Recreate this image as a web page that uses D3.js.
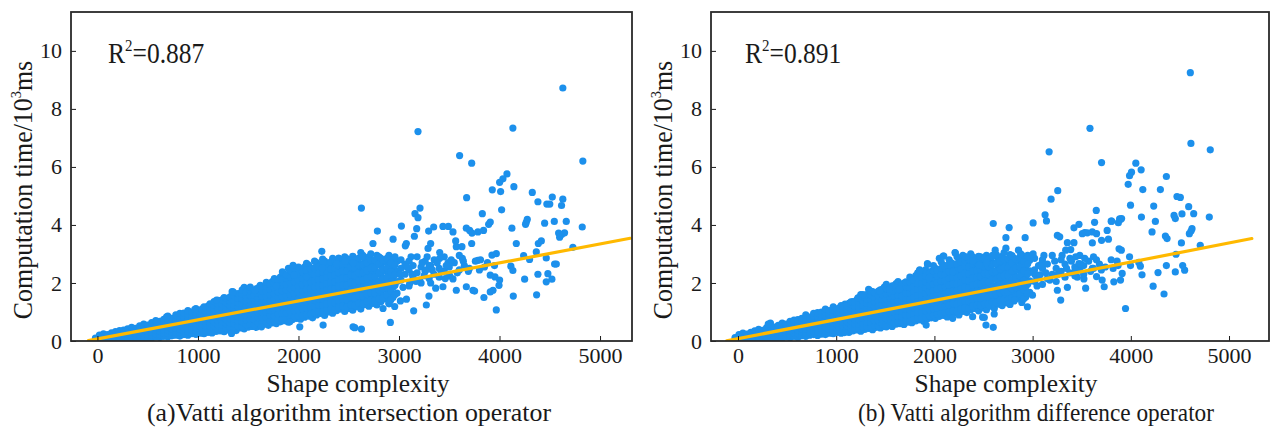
<!DOCTYPE html>
<html><head><meta charset="utf-8">
<script src="https://cdn.jsdelivr.net/npm/d3@7"></script>
<style>
body{margin:0;background:#fff}
svg{display:block}
text{font-family:"Liberation Serif","Times New Roman",serif;fill:#1a1a1a}
</style>
</head><body><svg id="c" width="1271" height="430"></svg>
<script>
// ---------------- DATA ----------------
const xTicks = [0, 1000, 2000, 3000, 4000, 5000];
const yTicks = [0, 2, 4, 6, 8, 10];
const xTitle = "Shape complexity";
const yTitleMain = "Computation time/10";
const yTitleSup = "3";
const yTitleEnd = "ms";
const captions = ["(a)Vatti algorithm intersection operator", "(b) Vatti algorithm difference operator"];
const r2Values = ["0.887", "0.891"];
// regression lines: [intercept, slope] and x extent
const fitA = [0.07, 0.000655];
const fitRangeA = [-90, 5300];
const fitB = [0.08, 0.00066];
const fitRangeB = [-115, 5232];

// Panel (a) dense band: shape complexity columns and the times read in each
const colAX = [-20,20,60,100,140,180,220,260,300,340,380,420,460,500,540,580,620,660,700,740,780,820,860,900,940,980,1020,1060,1100,1140,1180,1220,1260,1300,1340,1380,1420,1460,1500,1540,1580,1620,1660,1700,1740,1780,1820,1860,1900,1940,1980,2020,2060,2100,2140,2180,2220,2260,2300,2340,2380,2420,2460,2500,2540,2580,2620,2660,2700,2740,2780,2820,2860,2900,2940,2980,3020,3060,3100,3140,3180,3220,3260,3300,3350,3400,3450,3500,3550,3600,3650,3700,3760,3850,3950];
const colAY = [
[0.03,0.1],[0.05,0.12,0.2],[0.04,0.1,0.18,0.25],[0.06,0.14,0.22],[0.03,0.1,0.18,0.28],[0.05,0.15,0.24,0.32],
[0.04,0.12,0.2,0.3,0.36],[0.07,0.16,0.26,0.38],[0.05,0.13,0.22,0.32,0.42],[0.08,0.18,0.28,0.36,0.47],[0.06,0.15,0.25,0.34,0.44],
[0.1,0.2,0.3,0.4,0.52],[0.08,0.17,0.27,0.38,0.48,0.58],[0.12,0.22,0.33,0.44,0.55],[0.1,0.2,0.3,0.42,0.52,0.63],
[0.14,0.25,0.36,0.47,0.58,0.7],[0.12,0.22,0.34,0.45,0.56,0.68],[0.16,0.27,0.38,0.5,0.62,0.75],[0.15,0.26,0.37,0.48,0.6,0.72,0.86],
[0.18,0.3,0.42,0.54,0.66,0.78],[0.2,0.31,0.43,0.55,0.68,0.8,0.9],[0.17,0.29,0.41,0.53,0.65,0.77,0.95],[0.22,0.34,0.46,0.58,0.7,0.83,0.96],
[0.2,0.33,0.45,0.57,0.69,0.81,0.93,1.05],[0.25,0.37,0.5,0.62,0.74,0.87,1.0],[0.23,0.35,0.48,0.6,0.72,0.85,0.98,1.12],
[0.27,0.4,0.52,0.65,0.78,0.9,1.03],[0.25,0.38,0.51,0.64,0.77,0.9,1.04,1.18],[0.3,0.43,0.56,0.69,0.82,0.95,1.08,1.2],
[0.28,0.42,0.55,0.68,0.82,0.96,1.1,1.25],[0.33,0.46,0.6,0.74,0.88,1.02,1.16,1.3],[0.35,0.49,0.63,0.77,0.91,1.05,1.2,1.35],
[0.32,0.47,0.62,0.76,0.9,1.05,1.2,1.34,1.5],[0.38,0.52,0.67,0.82,0.96,1.1,1.25,1.4],[0.4,0.55,0.7,0.85,1.0,1.15,1.3,1.45,1.7],
[0.36,0.52,0.68,0.84,1.0,1.16,1.32,1.48,1.62],[0.45,0.6,0.76,0.92,1.08,1.24,1.4,1.55],[0.42,0.58,0.74,0.9,1.06,1.22,1.38,1.54,1.68,1.85],
[0.48,0.64,0.8,0.96,1.12,1.28,1.44,1.6,1.75],[0.5,0.67,0.84,1.0,1.16,1.32,1.48,1.64],[0.47,0.64,0.81,0.98,1.15,1.32,1.5,1.66,1.8],
[0.55,0.72,0.89,1.06,1.23,1.4,1.57,1.74,1.92],[0.58,0.75,0.92,1.1,1.28,1.45,1.62,1.8],[0.54,0.72,0.9,1.08,1.26,1.44,1.62,1.8,1.96],
[0.62,0.8,0.98,1.16,1.34,1.52,1.7,1.88,2.05],[0.6,0.78,0.97,1.16,1.35,1.54,1.72,1.9,2.1],[0.66,0.85,1.04,1.23,1.42,1.6,1.8,1.98,2.2],
[0.7,0.88,1.07,1.26,1.45,1.64,1.84,2.04,2.3],[0.65,0.85,1.05,1.25,1.45,1.65,1.85,2.05,2.2,2.5],[0.74,0.94,1.14,1.34,1.54,1.74,1.94,2.14,2.35],
[0.78,0.98,1.18,1.38,1.58,1.78,1.98,2.18,2.4],[0.75,0.96,1.17,1.38,1.59,1.8,2.0,2.2,2.45],[0.82,1.03,1.24,1.45,1.66,1.87,2.08,2.3,2.55],
[0.86,1.08,1.3,1.52,1.74,1.96,2.18,2.4,2.62],[0.8,1.02,1.24,1.46,1.68,1.9,2.12,2.34,2.5],[0.9,1.12,1.34,1.56,1.78,2.0,2.22,2.44,2.7],
[0.95,1.18,1.4,1.62,1.84,2.06,2.28,2.5,2.62],[0.88,1.1,1.33,1.56,1.79,2.02,2.25,2.48,2.75],[1.0,1.22,1.45,1.68,1.9,2.13,2.36,2.6],
[0.96,1.2,1.44,1.68,1.92,2.16,2.4,2.66,2.85],[1.05,1.28,1.52,1.76,2.0,2.24,2.48,2.72],[1.1,1.34,1.58,1.82,2.06,2.3,2.55,2.8],
[1.02,1.27,1.52,1.77,2.02,2.27,2.52,2.9],[1.12,1.38,1.64,1.9,2.16,2.42,2.68],[1.06,1.32,1.58,1.84,2.1,2.36,2.62,2.92],
[1.18,1.44,1.7,1.96,2.22,2.48,2.74],[1.1,1.36,1.62,1.88,2.14,2.4,2.66,3.05],[1.25,1.5,1.76,2.02,2.28,2.54,2.82],
[1.2,1.48,1.76,2.04,2.32,2.6,2.9],[1.3,1.58,1.86,2.14,2.42,2.7],[1.24,1.52,1.8,2.08,2.36,2.64,2.95],
[1.35,1.66,1.97,2.28,2.59,2.85],[1.45,1.78,2.1,2.42,2.74],[1.3,1.62,1.95,2.3,2.6,2.95],[1.5,1.85,2.2,2.55,2.8],[1.65,2.05,2.4,2.75],
[2.1,2.5,2.8],[2.3,2.65],[1.9,2.45,2.75],[2.2,2.6],[2.35,2.9],[2.0,2.55],[2.4,2.75],[2.15,2.6],[2.3,2.8],[2.5,2.2],[2.4,2.9],[2.55,2.25],[2.7],[2.45,2.95],[2.6],[2.5],[2.75],[2.55],[2.6]
];
// Panel (a) in-between columns of the dense band
const fillAX = [1040,1080,1120,1160,1200,1240,1280,1320,1360,1400,1440,1480,1520,1560,1600,1640,1680,1720,1760,1800,1840,1880,1920,1960,2000,2040,2080,2120,2160,2200,2240,2280,2320,2360,2400,2440,2480,2520,2560,2600,2640,2680,2720,2760,2800,2840,2880,2920,2960];
const fillAY = [
[0.33,0.46,0.58,0.71,0.84,0.97,1.1],[0.36,0.5,0.63,0.76,0.89,1.02,1.15],[0.37,0.5,0.63,0.76,0.89,1.02,1.15,1.28],
[0.4,0.53,0.67,0.81,0.95,1.09,1.23,1.36],[0.42,0.56,0.7,0.84,0.98,1.12,1.27,1.4],[0.4,0.55,0.7,0.84,0.98,1.12,1.27,1.42],
[0.45,0.6,0.74,0.89,1.03,1.18,1.32,1.47],[0.47,0.62,0.77,0.92,1.07,1.22,1.37,1.52],[0.44,0.6,0.76,0.92,1.08,1.24,1.4,1.56],
[0.52,0.68,0.84,1.0,1.16,1.32,1.48,1.63],[0.5,0.66,0.82,0.98,1.14,1.3,1.46,1.62,1.76],[0.56,0.72,0.88,1.04,1.2,1.36,1.52,1.68],
[0.58,0.75,0.92,1.08,1.24,1.4,1.56,1.72,1.86],[0.56,0.73,0.9,1.07,1.24,1.41,1.58,1.74],[0.62,0.8,0.97,1.14,1.31,1.48,1.65,1.83],
[0.64,0.82,1.0,1.18,1.36,1.54,1.72,1.88],[0.63,0.81,0.99,1.17,1.35,1.53,1.71,1.88,2.02],[0.7,0.88,1.06,1.24,1.42,1.6,1.78,1.96],
[0.68,0.87,1.06,1.25,1.44,1.63,1.82,2.0,2.15],[0.74,0.93,1.12,1.31,1.5,1.69,1.88,2.08],[0.76,0.95,1.15,1.34,1.53,1.72,1.92,2.12,2.38],
[0.78,0.97,1.17,1.36,1.56,1.76,1.96,2.16,2.28],[0.8,1.0,1.2,1.4,1.6,1.8,2.0,2.2,2.42],[0.84,1.04,1.24,1.44,1.64,1.84,2.04,2.26,2.5],
[0.86,1.07,1.28,1.49,1.7,1.9,2.1,2.3,2.55],[0.88,1.1,1.31,1.52,1.73,1.94,2.16,2.38],[0.92,1.14,1.35,1.56,1.78,2.0,2.22,2.44,2.68],
[0.94,1.16,1.38,1.6,1.82,2.04,2.26,2.48],[0.98,1.2,1.42,1.64,1.86,2.08,2.3,2.52,2.75],[1.02,1.24,1.46,1.68,1.9,2.12,2.34,2.56],
[1.0,1.23,1.46,1.69,1.92,2.15,2.38,2.6,2.82],[1.06,1.29,1.52,1.75,1.98,2.2,2.42,2.66],[1.1,1.33,1.56,1.79,2.02,2.25,2.48,2.72],
[1.08,1.32,1.56,1.8,2.04,2.28,2.52,2.76],[1.16,1.4,1.64,1.88,2.12,2.36,2.6,2.86],[1.2,1.44,1.68,1.92,2.16,2.4,2.64],
[1.18,1.42,1.67,1.92,2.17,2.42,2.66,2.84],[1.24,1.5,1.76,2.02,2.28,2.54,2.8],[1.22,1.48,1.74,2.0,2.26,2.52,2.78],
[1.3,1.56,1.82,2.08,2.34,2.6,2.86],[1.28,1.55,1.82,2.09,2.36,2.63,2.95],[1.36,1.63,1.9,2.17,2.44,2.7],
[1.4,1.66,1.94,2.22,2.5,2.78,3.0],[1.38,1.66,1.94,2.22,2.5,2.8],[1.46,1.76,2.06,2.36,2.66,2.9],
[1.5,1.82,2.15,2.48,2.78],[1.58,1.9,2.2,2.52,2.85],[1.42,1.72,2.05,2.38,2.7],[1.6,1.92,2.28,2.62,2.9]
];
// Panel (a) scattered points [shape complexity, time]
const outA = [[3189,7.22],[4133,7.34],[3603,6.39],[3723,6.13],[4829,6.2],[4074,5.76],[4034,5.59],[4001,5.47],[3928,5.21],[4011,5.15],[4143,5.32],[4326,5.12],[4382,4.8],[4471,4.72],[4500,4.72],[4525,4.96],[4630,4.89],[4617,4.67],[3673,4.94],[2626,4.58],[3209,4.58],[3159,4.39],[3189,4.25],[4021,4.52],[3829,4.39],[3892,4.02],[3908,4.1],[4266,4.09],[4276,4.19],[4545,4.12],[4664,4.12],[4823,3.93],[3024,3.96],[3176,3.87],[3295,3.79],[3345,3.93],[3437,3.95],[3491,3.95],[3537,3.76],[3670,3.89],[3703,3.81],[3785,3.76],[3841,3.81],[4123,3.89],[4259,4.02],[4449,4.06],[4598,3.58],[4618,3.67],[4647,3.73],[4588,3.72],[4730,3.23],[2785,3.79],[2741,3.36],[2941,3.51],[3063,3.28],[3073,3.36],[3153,3.61],[3315,3.36],[3289,3.19],[3405,3.05],[3564,3.45],[3570,3.25],[3626,3.25],[3723,3.36],[3726,3.72],[4167,3.36],[4386,3.36],[4416,3.45],[4366,3.07],[3968,3.01],[3925,2.96],[3630,2.85],[3785,2.78],[3811,2.8],[4240,2.94],[4299,2.81],[4465,2.86],[4548,2.65],[4565,2.65],[4113,2.58],[4133,2.43],[3908,2.27],[3955,2.21],[4001,2.1],[3995,1.92],[3935,1.75],[3908,1.69],[4250,2.13],[4382,2.3],[4481,2.32],[4521,2.13],[4465,2.04],[4137,1.55],[4369,1.59],[3968,1.07],[3845,1.5],[3146,1.04],[3272,1.24],[3014,1.38],[3074,1.44],[2914,0.64],[2560,0.46],[2626,0.41],[2841,1.12],[2901,1.28],[2957,1.19],[2232,3.09],[2636,2.9],[3265,2.44],[3315,2.6],[3405,2.85],[3489,2.7],[3315,2.0],[3365,1.82],[3437,1.87],[3570,1.75],[3670,1.87],[3736,1.75],[3752,1.72],[3298,1.55],[3206,2.1],[3107,2.0],[3505,2.24],[3537,2.14],[4630,8.72],[2543,0.49],
[3010,2.3],[3040,1.85],[3080,2.55],[3120,2.9],[3130,2.3],[3170,2.05],[3230,2.7],[3250,2.25],[3280,2.9],[3330,2.45],[3380,2.7],[3420,2.4],[3460,2.15],[3470,2.6],[3520,2.8],[3580,2.35],[3640,2.75],[3690,2.4],[3800,2.45],[3880,2.7],
[1350,1.69],[1566,1.75],[1781,1.9],[1946,2.61],[1956,2.27],[2080,2.21],[2245,2.72],[2238,2.52],[2378,2.67],[2460,2.75],[2544,2.7],[1185,1.41],[969,1.09],[688,0.83],[588,0.66],
[1334,0.26],[2013,0.49],[2245,0.55],[1913,0.66],[1632,0.49]];

// Panel (b) dense band
const colBX = [-30,10,50,90,130,170,210,250,290,330,370,410,450,490,530,570,610,650,690,730,770,810,850,890,930,970,1010,1050,1090,1130,1170,1210,1250,1290,1330,1370,1410,1450,1490,1530,1570,1610,1650,1690,1730,1770,1810,1850,1890,1930,1970,2010,2050,2090,2130,2170,2210,2250,2290,2330,2370,2410,2450,2490,2530,2570,2610,2650,2690,2730,2770,2810,2850,2890,2930,2970,3020,3060,3100,3150,3200,3240,3290,3330,3380,3430,3480,3520,3570,3620,3680,3740,3800,3870];
const colBY = [
[0.04,0.12],[0.06,0.15,0.22],[0.03,0.11,0.19,0.27],[0.07,0.16,0.24],[0.05,0.13,0.21,0.3],[0.08,0.17,0.26,0.35],
[0.05,0.14,0.23,0.31,0.4],[0.09,0.18,0.28,0.37],[0.06,0.15,0.25,0.34,0.45],[0.1,0.2,0.3,0.4,0.5,0.62],[0.08,0.18,0.28,0.38,0.48],
[0.12,0.22,0.32,0.43,0.54],[0.1,0.2,0.31,0.42,0.53,0.62],[0.14,0.25,0.36,0.47,0.58],[0.11,0.22,0.33,0.45,0.56,0.68],
[0.16,0.27,0.39,0.5,0.62,0.72],[0.13,0.25,0.37,0.49,0.61,0.74],[0.18,0.3,0.42,0.54,0.66,0.78],[0.16,0.28,0.4,0.52,0.65,0.77,0.9],
[0.2,0.32,0.45,0.58,0.7,0.82],[0.22,0.34,0.47,0.6,0.73,0.86,0.95],[0.19,0.32,0.45,0.58,0.71,0.84,0.98],[0.24,0.37,0.5,0.63,0.76,0.89,1.0],
[0.22,0.35,0.48,0.61,0.74,0.87,1.0,1.1],[0.27,0.4,0.53,0.66,0.79,0.92,1.05],[0.25,0.38,0.51,0.64,0.78,0.92,1.06,1.18],
[0.3,0.43,0.56,0.7,0.84,0.97,1.1],[0.27,0.41,0.55,0.69,0.83,0.97,1.11,1.22],[0.32,0.46,0.6,0.74,0.88,1.02,1.16,1.27],
[0.3,0.44,0.59,0.74,0.89,1.04,1.18,1.3],[0.35,0.5,0.65,0.8,0.95,1.1,1.25,1.36],[0.38,0.53,0.68,0.83,0.98,1.13,1.28,1.42],
[0.34,0.5,0.66,0.82,0.98,1.14,1.3,1.45,1.6],[0.4,0.56,0.72,0.88,1.04,1.2,1.36,1.5],[0.43,0.59,0.75,0.91,1.07,1.23,1.39,1.55,1.78],
[0.39,0.56,0.73,0.9,1.07,1.24,1.41,1.58,1.7],[0.47,0.64,0.81,0.98,1.15,1.32,1.49,1.65],[0.45,0.62,0.79,0.96,1.13,1.3,1.47,1.64,1.76],
[0.5,0.67,0.84,1.01,1.18,1.35,1.52,1.7,1.86],[0.53,0.7,0.88,1.06,1.24,1.42,1.6,1.75],[0.5,0.68,0.86,1.04,1.22,1.4,1.58,1.76,1.9],
[0.58,0.76,0.94,1.12,1.3,1.48,1.66,1.84,1.98],[0.6,0.78,0.96,1.14,1.32,1.5,1.68,1.86],[0.57,0.76,0.95,1.14,1.33,1.52,1.7,1.88,2.0],
[0.65,0.84,1.03,1.22,1.41,1.6,1.79,1.96],[0.63,0.82,1.01,1.2,1.39,1.58,1.77,1.96,2.15],[0.69,0.88,1.07,1.26,1.45,1.64,1.83,2.02,2.25],
[0.73,0.92,1.12,1.32,1.52,1.72,1.92,2.12,2.45],[0.68,0.88,1.08,1.28,1.48,1.68,1.88,2.08,2.3],[0.77,0.97,1.17,1.37,1.57,1.77,1.97,2.17,2.64],
[0.8,1.0,1.2,1.4,1.6,1.8,2.0,2.2,2.4],[0.78,0.99,1.2,1.41,1.62,1.83,2.04,2.25,2.5],[0.85,1.06,1.27,1.48,1.69,1.9,2.11,2.33,2.85],
[0.88,1.1,1.32,1.54,1.76,1.98,2.2,2.42,2.93],[0.83,1.05,1.27,1.49,1.71,1.93,2.15,2.37,2.6],[0.92,1.14,1.36,1.58,1.8,2.02,2.24,2.46,2.7],
[0.97,1.2,1.42,1.64,1.86,2.08,2.3,2.52,3.05],[0.9,1.13,1.36,1.59,1.82,2.05,2.28,2.51,2.78],[1.02,1.25,1.48,1.71,1.94,2.17,2.4,2.65,2.95],
[0.98,1.22,1.46,1.7,1.94,2.18,2.42,2.68,2.88],[1.08,1.31,1.55,1.79,2.03,2.27,2.51,2.75,3.0],[1.12,1.36,1.6,1.84,2.08,2.32,2.58,2.82],
[1.04,1.29,1.54,1.79,2.04,2.29,2.54,2.92],[1.14,1.4,1.66,1.92,2.18,2.44,2.7],[1.08,1.34,1.6,1.86,2.12,2.38,2.64,2.95],
[1.2,1.46,1.72,1.98,2.24,2.5,2.76],[1.12,1.38,1.64,1.9,2.16,2.42,2.68],[1.27,1.52,1.78,2.04,2.3,2.56,2.85],
[1.22,1.5,1.78,2.06,2.34,2.62,2.92],[1.32,1.6,1.88,2.16,2.44,2.72],[1.26,1.54,1.82,2.1,2.38,2.66,2.98],
[1.38,1.68,1.99,2.3,2.6,2.86],[1.47,1.8,2.12,2.44,2.76],[1.33,1.64,1.97,2.32,2.62,2.96],[1.52,1.87,2.22,2.57,2.82],[1.68,2.07,2.42,2.78],
[2.05,2.45,2.85],[2.25,2.6],[1.95,2.5,2.8],[2.15,2.65],[2.3,2.95],[2.05,2.5],[2.4,2.8],[2.2,2.65],[2.35,2.85],[2.55,2.25],[2.45,2.95],[2.6,2.3],[2.75],[2.5,2.9],[2.65],[2.55],[2.8],[2.6]
];
const fillBX = [1030,1070,1110,1150,1190,1230,1270,1310,1350,1390,1430,1470,1510,1550,1590,1630,1670,1710,1750,1790,1830,1870,1910,1950,1990,2030,2070,2110,2150,2190,2230,2270,2310,2350,2390,2430,2470,2510,2550,2590,2630,2670,2710,2750,2790,2830,2870,2910,2950];
const fillBY = [
[0.35,0.48,0.61,0.74,0.87,1.0,1.13],[0.37,0.51,0.65,0.78,0.91,1.04,1.17],[0.39,0.53,0.67,0.81,0.95,1.09,1.22],
[0.42,0.56,0.7,0.84,0.98,1.12,1.26,1.35],[0.44,0.59,0.74,0.89,1.04,1.19,1.33],[0.43,0.58,0.73,0.88,1.03,1.18,1.33,1.48],
[0.48,0.63,0.78,0.93,1.08,1.23,1.38,1.53],[0.5,0.66,0.82,0.98,1.14,1.3,1.46,1.6],[0.48,0.64,0.8,0.96,1.12,1.28,1.44,1.6,1.72],
[0.54,0.7,0.86,1.02,1.18,1.34,1.5,1.66],[0.53,0.7,0.87,1.04,1.21,1.38,1.55,1.72],[0.58,0.75,0.92,1.09,1.26,1.43,1.6,1.78],
[0.6,0.77,0.94,1.11,1.28,1.45,1.62,1.8,1.95],[0.58,0.76,0.94,1.12,1.3,1.48,1.66,1.84],[0.64,0.82,1.0,1.18,1.36,1.54,1.72,1.9],
[0.67,0.85,1.03,1.21,1.39,1.57,1.75,1.93,2.05],[0.66,0.84,1.02,1.2,1.38,1.56,1.74,1.94],[0.72,0.9,1.09,1.28,1.47,1.66,1.85,2.04],
[0.7,0.89,1.08,1.27,1.46,1.65,1.84,2.04,2.2],[0.76,0.95,1.14,1.33,1.52,1.71,1.9,2.1],[0.79,0.98,1.18,1.38,1.58,1.78,1.98,2.18,2.35],
[0.8,1.0,1.2,1.4,1.6,1.8,2.0,2.2],[0.84,1.04,1.24,1.44,1.64,1.84,2.04,2.24,2.45],[0.87,1.07,1.28,1.49,1.7,1.91,2.12,2.33],
[0.9,1.11,1.32,1.53,1.74,1.95,2.16,2.37,2.6],[0.92,1.13,1.35,1.57,1.79,2.01,2.23,2.45],[0.96,1.18,1.4,1.62,1.84,2.06,2.28,2.5,2.72],
[0.98,1.2,1.42,1.64,1.86,2.08,2.3,2.52],[1.02,1.24,1.47,1.7,1.93,2.16,2.39,2.62,2.8],[1.05,1.28,1.51,1.74,1.97,2.2,2.43,2.66],
[1.03,1.27,1.5,1.73,1.96,2.19,2.42,2.65,2.9],[1.1,1.33,1.56,1.79,2.02,2.25,2.48,2.72],[1.14,1.37,1.61,1.85,2.09,2.33,2.57,2.8],
[1.12,1.36,1.6,1.84,2.08,2.32,2.56,2.82],[1.2,1.44,1.68,1.92,2.16,2.4,2.65,2.9],[1.24,1.48,1.72,1.96,2.2,2.44,2.7],
[1.22,1.47,1.72,1.97,2.22,2.47,2.72,2.9],[1.28,1.54,1.8,2.06,2.32,2.58,2.84],[1.26,1.52,1.78,2.04,2.3,2.56,2.82],
[1.34,1.6,1.86,2.12,2.38,2.64,2.9],[1.32,1.59,1.86,2.13,2.4,2.67,2.98],[1.4,1.67,1.94,2.21,2.48,2.75],
[1.44,1.7,1.98,2.26,2.54,2.82,3.05],[1.42,1.7,1.98,2.26,2.54,2.84],[1.5,1.8,2.1,2.4,2.7,2.94],
[1.54,1.86,2.19,2.52,2.82],[1.62,1.94,2.24,2.56,2.88],[1.46,1.76,2.09,2.42,2.74],[1.64,1.96,2.32,2.66,2.95]
];
const outB = [[4606,9.25],[3584,7.33],[4612,6.81],[4809,6.59],[3168,6.52],[3702,6.15],[4051,6.13],[4105,5.9],[4007,5.82],[3987,5.7],[3973,5.4],[4362,5.67],[4122,5.22],[4301,5.22],[3256,5.18],[3188,4.89],[3997,4.68],[4233,4.65],[4470,4.98],[4504,4.95],[4589,4.63],[4640,4.39],[4799,4.27],[4108,4.27],[4250,4.12],[4216,3.76],[4440,4.33],[4453,4.22],[4521,4.38],[4623,3.87],[4596,3.7],[4613,3.79],[4707,3.3],[4352,3.62],[4369,3.53],[4515,3.38],[4460,2.99],[4362,2.6],[4453,2.38],[4548,2.44],[4528,2.6],[4277,2.36],[4227,1.89],[4338,1.62],[3946,1.12],[4097,2.58],[4114,2.28],[3895,4.19],[3800,4.13],[3631,4.09],[3648,4.5],[3472,4.02],[3421,3.9],[3530,3.74],[3557,3.73],[3608,3.76],[3608,3.38],[3702,3.47],[3886,4.21],[3127,4.35],[3141,4.14],[3005,4.07],[2599,4.05],[2761,3.91],[2728,3.56],[2924,3.56],[2856,3.13],[2878,3.0],[2619,3.13],[2728,3.2],[3005,3.0],[3252,3.64],[3276,3.59],[3354,3.39],[3337,3.13],[3388,3.15],[3421,3.39],[3651,3.7],[3506,3.7],[3759,3.81],[3805,4.13],[3873,4.08],[3906,4.22],[3772,3.51],[3880,3.18],[3903,3.13],[3987,2.9],[4081,2.71],[3997,2.6],[3912,2.33],[3895,2.1],[3827,2.04],[3729,1.87],[3651,2.22],[3708,2.1],[3522,2.14],[3540,1.82],[3354,1.85],[3286,1.41],[3252,1.75],[3025,2.28],[3077,2.28],[2998,1.58],[2947,1.18],[2819,1.41],[2761,1.29],[2609,0.93],[2525,0.55],[2599,0.47],[2491,0.82],[3439,2.9],[3472,2.67],[3608,2.5],[3093,2.67],[2592,2.95],[2508,0.81],
[3010,2.35],[3045,1.9],[3085,2.6],[3115,2.95],[3135,2.35],[3175,2.1],[3225,2.75],[3260,2.3],[3300,2.95],[3345,2.5],[3395,2.75],[3435,2.45],[3455,2.2],[3490,2.65],[3530,2.85],[3590,2.4],[3650,2.8],[3700,2.45],[3820,2.5],[3860,2.75],
[308,0.58],[1221,1.49],[1272,1.6],[1442,1.73],[1543,1.78],[1645,1.78],[1848,2.42],[1929,2.67],[1949,2.19],[2095,2.93],[2213,3.03],[2102,2.6],[2186,2.38],[2322,2.9],[2389,2.76],[2457,2.61],[2531,2.7],
[1086,0.29],[1510,0.49],[1916,0.55],[2186,0.78],[2389,0.84]];

// ---------------- DRAW ----------------
const svg = d3.select("#c");
const DOT = "#1c90ec", LINE = "#ffb900", INK = "#1a1a1a";

function columns(cx, cy) { return cx.flatMap((x, i) => cy[i].map(v => [x, v])); }

function panel(cfg, pts, fit, fitRange, r2, caption, id) {
  const x = d3.scaleLinear().domain(cfg.xDom).range([cfg.left, cfg.right]);
  const y = d3.scaleLinear().domain([0, 11.34]).range([cfg.bottom, cfg.top]);
  const g = svg.append("g");

  g.append("clipPath").attr("id", "clip" + id).append("rect")
    .attr("x", cfg.left).attr("y", cfg.top)
    .attr("width", cfg.right - cfg.left).attr("height", cfg.bottom - cfg.top);

  const plot = g.append("g").attr("clip-path", `url(#clip${id})`);
  plot.selectAll("circle").data(pts).join("circle")
    .attr("cx", d => x(d[0])).attr("cy", d => y(d[1])).attr("r", 3.6)
    .attr("fill", DOT);
  plot.append("line")
    .attr("x1", x(fitRange[0])).attr("y1", y(fit[0] + fit[1] * fitRange[0]))
    .attr("x2", x(fitRange[1])).attr("y2", y(fit[0] + fit[1] * fitRange[1]))
    .attr("stroke", LINE).attr("stroke-width", 3.2).attr("stroke-linecap", "round");

  // axes (ticks pointing inside)
  const ax = g.append("g").attr("transform", `translate(0,${cfg.bottom})`)
    .call(d3.axisBottom(x).tickValues(xTicks).tickSize(-5).tickPadding(6).tickFormat(d3.format("d")));
  const ay = g.append("g").attr("transform", `translate(${cfg.left},0)`)
    .call(d3.axisLeft(y).tickValues(yTicks).tickSize(-5).tickPadding(9).tickFormat(d3.format("d")));
  [ax, ay].forEach(a => {
    a.select(".domain").remove();
    a.selectAll(".tick line").attr("stroke", INK).attr("stroke-width", 1);
    a.selectAll(".tick text").attr("font-family", '"Liberation Serif",serif')
      .attr("font-size", 22).attr("fill", INK);
  });

  g.append("rect").attr("x", cfg.left).attr("y", cfg.top)
    .attr("width", cfg.right - cfg.left).attr("height", cfg.bottom - cfg.top)
    .attr("fill", "none").attr("stroke", "#2a2a2a").attr("stroke-width", 1.8);

  // R^2 label
  const rt = g.append("g").attr("transform", `translate(${cfg.r2x},${cfg.r2y}) scale(0.88,1)`)
    .append("text").attr("font-size", 29);
  rt.append("tspan").text("R");
  rt.append("tspan").attr("font-size", 17).attr("dy", -12).text("2");
  rt.append("tspan").attr("dy", 12).text("=" + r2);

  // y title
  const yt = g.append("g").attr("transform", `translate(${cfg.ytx},${cfg.yty}) rotate(-90) scale(0.96,1)`)
    .append("text").attr("text-anchor", "middle").attr("font-size", 27);
  yt.append("tspan").text(yTitleMain);
  yt.append("tspan").attr("font-size", 15).attr("dy", -11).text(yTitleSup);
  yt.append("tspan").attr("dy", 11).text(yTitleEnd);

  // x title and caption
  g.append("text").attr("x", cfg.xtx).attr("y", 392).attr("text-anchor", "middle")
    .attr("font-size", 26).attr("textLength", 183).attr("lengthAdjust", "spacingAndGlyphs").text(xTitle);
  g.append("text").attr("x", cfg.capx).attr("y", 421).attr("text-anchor", "middle")
    .attr("font-size", 26).attr("textLength", cfg.capw).attr("lengthAdjust", "spacingAndGlyphs").text(caption);
}

panel({left: 71, right: 632, top: 12, bottom: 341, xDom: [-263, 5318], r2x: 108, r2y: 63, ytx: 32, yty: 190, xtx: 358, capx: 349, capw: 404},
  columns(colAX, colAY).concat(columns(fillAX, fillAY), outA), fitA, fitRangeA, r2Values[0], captions[0], "a");
panel({left: 711, right: 1269, top: 12, bottom: 341, xDom: [-275, 5407], r2x: 745, r2y: 63, ytx: 672, yty: 190, xtx: 1006, capx: 1036, capw: 356},
  columns(colBX, colBY).concat(columns(fillBX, fillBY), outB), fitB, fitRangeB, r2Values[1], captions[1], "b");
</script>
</body></html>
